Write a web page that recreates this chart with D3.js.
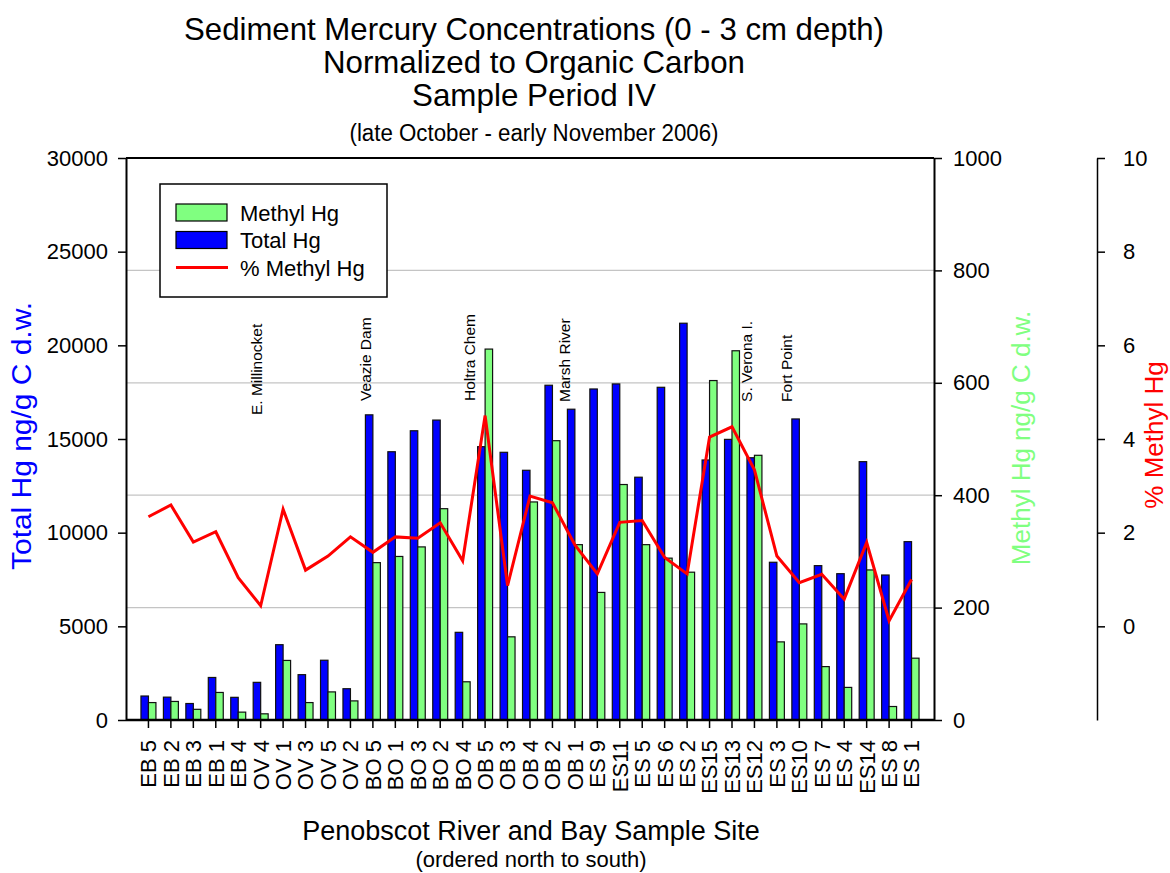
<!DOCTYPE html>
<html>
<head>
<meta charset="utf-8">
<script src="https://cdn.jsdelivr.net/npm/d3@7"></script>
<style>
  html, body { margin: 0; padding: 0; background: #fff; }
  svg { display: block; }
  text { font-family: "Liberation Sans", Arial, Helvetica, sans-serif; fill: #000; }
</style>
</head>
<body>
<svg id="chart" width="1170" height="873"></svg>
<script>
// Sample sites, ordered north to south
const sites = ["EB 5","EB 2","EB 3","EB 1","EB 4","OV 4","OV 1","OV 3","OV 5","OV 2",
  "BO 5","BO 1","BO 3","BO 2","BO 4","OB 5","OB 3","OB 4","OB 2","OB 1",
  "ES 9","ES11","ES 5","ES 6","ES 2","ES15","ES13","ES12","ES 3","ES10",
  "ES 7","ES 4","ES14","ES 8","ES 1"];

// Total Hg, ng/g C d.w.
const totalHg = [1280, 1220, 880, 2270, 1210, 2010, 4020, 2420, 3190, 1670,
  16290, 14320, 15440, 16010, 4680, 14590, 14290, 13330, 17870, 16590,
  17670, 17940, 12960, 17760, 21180, 13880, 14980, 14000, 8420, 16070,
  8240, 7810, 13790, 7740, 9520];

// Methyl Hg, ng/g C d.w.
const methylHg = [31, 33, 19, 49, 14, 11, 106, 31, 50, 34,
  280, 291, 308, 376, 68, 660, 148, 388, 497, 312,
  227, 419, 312, 288, 263, 604, 657, 471, 139, 171,
  95, 58, 267, 24, 110];

// Percent methyl Hg
const pctMethyl = [2.34, 2.59, 1.80, 2.02, 1.04, 0.44, 2.50, 1.20, 1.50, 1.91,
  1.58, 1.91, 1.88, 2.21, 1.40, 4.50, 0.87, 2.78, 2.64, 1.74,
  1.12, 2.22, 2.26, 1.47, 1.12, 4.04, 4.26, 3.34, 1.50, 0.93,
  1.11, 0.58, 1.79, 0.12, 1.00];

// Axis tick values
const totalTicks = [0, 5000, 10000, 15000, 20000, 25000, 30000];
const methylTicks = [0, 200, 400, 600, 800, 1000];
const pctTicks = [0, 2, 4, 6, 8, 10];

// Landmarks along the river, placed near the site they follow
const noteLabels = ["E. Millinocket", "Veazie Dam", "Holtra Chem", "Marsh River", "S. Verona I.", "Fort Point"];
const noteSites = ["OV 4", "BO 5", "OB 5", "OB 1", "ES12", "ES10"];
const noteLevels = [16280, 17030, 17030, 16980, 16980, 16980];

// Titles
const titleLines = ["Sediment Mercury Concentrations (0 - 3 cm depth)", "Normalized to Organic Carbon", "Sample Period IV"];
const titleNote = "(late October - early November 2006)";
const xTitle = "Penobscot River and Bay Sample Site";
const xNote = "(ordered north to south)";

// ---- layout ----
const W = 1170, H = 873;
const plot = { left: 126, right: 934, top: 158, bottom: 720 };
const pctAxisX = 1097;
const noteShift = [0.05, -0.1, -0.45, -0.22, -0.1, -0.33];   // in site steps
const titleWidths = [700, 422, 244];
const BLUE = "#0000ff", GREEN = "#80ff80", RED = "#ff0000";

const svg = d3.select("#chart");
svg.append("rect").attr("width", W).attr("height", H).attr("fill", "#fff");

// ---- scales ----
const x = d3.scaleBand().domain(sites).range([plot.left, plot.right])
  .paddingInner(0).paddingOuter(0.5);
const xSeries = d3.scaleBand().domain(["total", "methyl"]).range([0, x.bandwidth()])
  .paddingInner(0).paddingOuter(0.5);
const yTotal = d3.scaleLinear().domain([0, 30000]).range([plot.bottom, plot.top]);
const yMethyl = d3.scaleLinear().domain([0, 1000]).range([plot.bottom, plot.top]);
const yPct = d3.scaleLinear().domain([-2, 10]).range([plot.bottom, plot.top]);
const cx = s => x(s) + x.bandwidth() / 2;

// ---- gridlines (methyl Hg scale) ----
svg.append("g").selectAll("line")
  .data(methylTicks.filter(v => v > 0 && v < 1000))
  .join("line")
  .attr("x1", plot.left).attr("x2", plot.right)
  .attr("y1", d => yMethyl(d)).attr("y2", d => yMethyl(d))
  .attr("stroke", "#c4c4c4").attr("stroke-width", 1.2);

// ---- bars ----
const barG = svg.append("g");
barG.selectAll("rect.total")
  .data(sites.map((s, i) => ({ s, v: totalHg[i] })))
  .join("rect").attr("class", "total")
  .attr("x", d => x(d.s) + xSeries("total"))
  .attr("width", xSeries.bandwidth())
  .attr("y", d => yTotal(d.v))
  .attr("height", d => yTotal(0) - yTotal(d.v))
  .attr("fill", BLUE).attr("stroke", "#111").attr("stroke-width", 1.2);

barG.selectAll("rect.methyl")
  .data(sites.map((s, i) => ({ s, v: methylHg[i] })))
  .join("rect").attr("class", "methyl")
  .attr("x", d => x(d.s) + xSeries("methyl"))
  .attr("width", xSeries.bandwidth())
  .attr("y", d => yMethyl(d.v))
  .attr("height", d => yMethyl(0) - yMethyl(d.v))
  .attr("fill", GREEN).attr("stroke", "#111").attr("stroke-width", 1.2);

// ---- % methyl line ----
const line = d3.line().x((d, i) => cx(sites[i])).y(d => yPct(d));
svg.append("path").datum(pctMethyl)
  .attr("d", line)
  .attr("fill", "none").attr("stroke", RED).attr("stroke-width", 3)
  .attr("stroke-linejoin", "miter");

// ---- landmark labels ----
svg.append("g").selectAll("text")
  .data(noteLabels)
  .join("text")
  .attr("transform", (d, i) => `translate(${cx(noteSites[i]) + noteShift[i] * x.step()},${yTotal(noteLevels[i])}) rotate(-90)`)
  .attr("font-size", 15.5)
  .text(d => d);

// ---- axes ----
const styleAxis = (g, width) => {
  g.selectAll(".domain").attr("stroke", "#000").attr("stroke-width", width);
  g.selectAll(".tick line").attr("stroke", "#000").attr("stroke-width", 1.5);
  g.selectAll(".tick text").attr("font-size", 22)
    .attr("font-family", '"Liberation Sans", Arial, sans-serif').attr("fill", "#000");
};

// frame top
svg.append("line").attr("x1", plot.left).attr("x2", plot.right)
  .attr("y1", plot.top).attr("y2", plot.top)
  .attr("stroke", "#000").attr("stroke-width", 2);

const gLeft = svg.append("g").attr("transform", `translate(${plot.left},0)`)
  .call(d3.axisLeft(yTotal).tickValues(totalTicks).tickFormat(d3.format("d"))
    .tickSize(8).tickSizeOuter(0).tickPadding(10));
styleAxis(gLeft, 2);

const gRight = svg.append("g").attr("transform", `translate(${plot.right},0)`)
  .call(d3.axisRight(yMethyl).tickValues(methylTicks).tickFormat(d3.format("d"))
    .tickSize(8).tickSizeOuter(0).tickPadding(11));
styleAxis(gRight, 2);

const gPct = svg.append("g").attr("transform", `translate(${pctAxisX},0)`)
  .call(d3.axisRight(yPct).tickValues(pctTicks).tickFormat(d3.format("d"))
    .tickSize(8).tickSizeOuter(0).tickPadding(18));
styleAxis(gPct, 1.5);

const gBottom = svg.append("g").attr("transform", `translate(0,${plot.bottom})`)
  .call(d3.axisBottom(x).tickSize(8).tickSizeOuter(0));
styleAxis(gBottom, 2.5);
gBottom.select(".domain").attr("d", `M${plot.left},0H${plot.right}`);
gBottom.selectAll(".tick text")
  .attr("transform", "rotate(-90)")
  .attr("text-anchor", "end")
  .attr("x", -20).attr("y", 0).attr("dy", "0.36em");

// ---- axis titles ----
svg.append("text")
  .attr("transform", `translate(31,436) rotate(-90)`)
  .attr("text-anchor", "middle").attr("font-size", 27)
  .attr("textLength", 268).attr("lengthAdjust", "spacingAndGlyphs")
  .style("fill", BLUE).text("Total Hg ng/g C d.w.");

svg.append("text")
  .attr("transform", `translate(1030,438) rotate(-90)`)
  .attr("text-anchor", "middle").attr("font-size", 26)
  .style("fill", GREEN).text("Methyl Hg ng/g C d.w.");

svg.append("text")
  .attr("transform", `translate(1163,435) rotate(-90)`)
  .attr("text-anchor", "middle").attr("font-size", 26)
  .style("fill", RED).text("% Methyl Hg");

svg.append("text").attr("x", 531).attr("y", 840)
  .attr("text-anchor", "middle").attr("font-size", 27).text(xTitle);
svg.append("text").attr("x", 531).attr("y", 867)
  .attr("text-anchor", "middle").attr("font-size", 22).text(xNote);

// ---- chart title ----
svg.append("g").selectAll("text")
  .data(titleLines)
  .join("text")
  .attr("x", 534).attr("y", (d, i) => 40 + i * 33)
  .attr("text-anchor", "middle").attr("font-size", 32)
  .attr("textLength", (d, i) => titleWidths[i]).attr("lengthAdjust", "spacingAndGlyphs")
  .text(d => d);
svg.append("text").attr("x", 534).attr("y", 141)
  .attr("text-anchor", "middle").attr("font-size", 23)
  .attr("textLength", 369).attr("lengthAdjust", "spacingAndGlyphs")
  .text(titleNote);

// ---- legend ----
const legend = svg.append("g").attr("transform", "translate(160,184)");
legend.append("rect").attr("width", 227).attr("height", 113)
  .attr("fill", "#fff").attr("stroke", "#000").attr("stroke-width", 1.5);
const legendItems = [
  { label: "Methyl Hg", kind: "bar", color: GREEN },
  { label: "Total Hg", kind: "bar", color: BLUE },
  { label: "% Methyl Hg", kind: "line", color: RED }
];
legendItems.forEach((it, i) => {
  const cyL = 28.5 + i * 27.5;
  if (it.kind === "bar") {
    legend.append("rect").attr("x", 16).attr("y", cyL - 8.5).attr("width", 51).attr("height", 17)
      .attr("fill", it.color).attr("stroke", "#000").attr("stroke-width", 1.2);
  } else {
    legend.append("line").attr("x1", 16).attr("x2", 68).attr("y1", cyL).attr("y2", cyL)
      .attr("stroke", it.color).attr("stroke-width", 3);
  }
  legend.append("text").attr("x", 80).attr("y", cyL + 8).attr("font-size", 22).text(it.label);
});
</script>
</body>
</html>
